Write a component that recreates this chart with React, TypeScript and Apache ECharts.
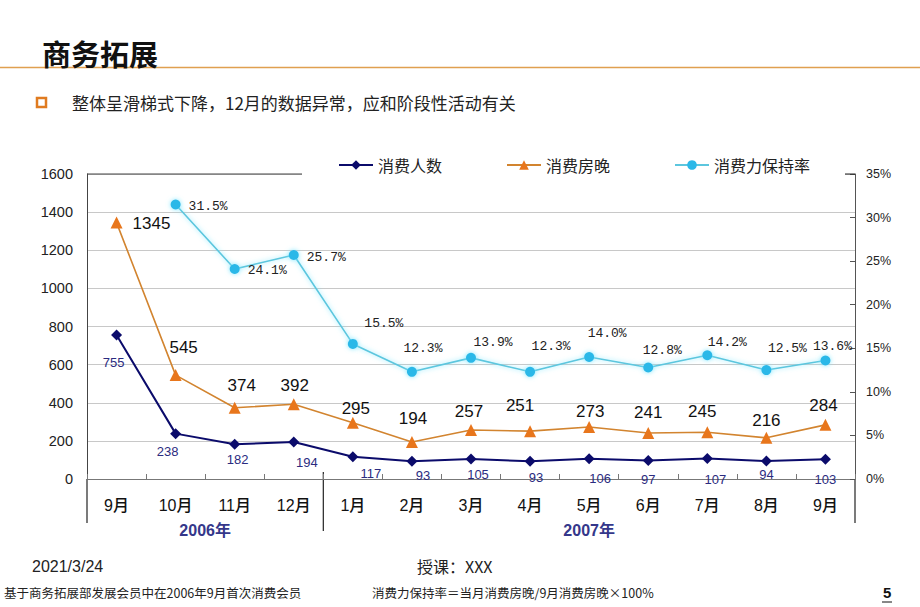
import React, { useEffect, useRef } from "react";
import * as echarts from "echarts";

const categories = ["9月", "10月", "11月", "12月", "1月", "2月", "3月", "4月", "5月", "6月", "7月", "8月", "9月"];
const yearGroups = [
  { label: "2006年", start: 0, end: 3 },
  { label: "2007年", start: 4, end: 12 },
];
const consumers = [755, 238, 182, 194, 117, 93, 105, 93, 106, 97, 107, 94, 103];
const roomNights = [1345, 545, 374, 392, 295, 194, 257, 251, 273, 241, 245, 216, 284];
const retention: (number | null)[] = [null, 31.5, 24.1, 25.7, 15.5, 12.3, 13.9, 12.3, 14.0, 12.8, 14.2, 12.5, 13.6];
const leftTicks = { min: 0, max: 1600, interval: 200 };
const rightTicks = { min: 0, max: 35, interval: 5 };

// label placement tweaks (style only)
const consumerLabelOffsets = [[-3, 13], [-8, 4], [3, 1], [13, 6], [18, 3], [11, 0], [7, 1], [6, 2], [11, 6], [0, 5], [8, 7], [0, -1], [0, 6]];
const nightLabelOffsets = [[0, 1], [8, -10], [7, -5], [1, -1], [3, 3], [1, -6], [-2, -1], [-10, -8], [1, 2], [0, -3], [-5, -3], [0, 0], [-2, -2]];
const retentionLabelOffsets = [[0, 0], [0, 2], [0, 2], [0, 2], [31, -6], [11, -9], [22, -1], [21, -11], [18, -9], [14, -2], [20, 2], [21, -7], [7, 1]];

const GRID_LEFT = 87;
const GRID_RIGHT_X = 855;
const GRID_TOP = 174;
const GRID_BOTTOM_Y = 479;
const W = 920;
const H = 607;
const FONT = "'Liberation Sans', 'Noto Sans CJK SC', sans-serif";
const CJK = "'Noto Sans CJK SC', 'Liberation Sans', sans-serif";
const MONO = "'Liberation Mono', 'DejaVu Sans Mono', monospace";

export default function App() {
  const ref = useRef<HTMLDivElement>(null);
  useEffect(() => {
    if (!ref.current) return;
    const chart = echarts.init(ref.current, null, { renderer: "svg" });
    const step = (GRID_RIGHT_X - GRID_LEFT) / categories.length;
    const sepX = (i: number) => GRID_LEFT + i * step;

    const graphics: any[] = [
      // title
      { type: "text", left: 42, top: 38, style: { text: "商务拓展", font: `bold 29px ${CJK}`, fill: "#111" }, z: 5 },
      { type: "line", shape: { x1: 0, y1: 67.5, x2: W, y2: 67.5 }, style: { stroke: "#e0a050", lineWidth: 1.5 }, z: 4 },
      // bullet
      { type: "rect", shape: { x: 37, y: 98, width: 9, height: 9 }, style: { fill: "#fff", stroke: "#e07b20", lineWidth: 2.5 } },
      { type: "text", left: 72, top: 94, style: { text: "整体呈滑梯式下降，12月的数据异常，应和阶段性活动有关", font: `17px ${CJK}`, fill: "#222" } },
      // cover for top gridline behind legend
      { type: "rect", shape: { x: 302, y: 170, width: 543, height: 8 }, style: { fill: "#fff" }, z: 10 },
      // top border segments
      { type: "line", shape: { x1: GRID_LEFT, y1: GRID_TOP, x2: 302, y2: GRID_TOP }, style: { stroke: "#444", lineWidth: 1 }, z: 11 },
      { type: "line", shape: { x1: 845, y1: GRID_TOP, x2: GRID_RIGHT_X, y2: GRID_TOP }, style: { stroke: "#222", lineWidth: 1 }, z: 11 },
      // vertical lines below the axis
      { type: "line", shape: { x1: GRID_LEFT, y1: GRID_BOTTOM_Y, x2: GRID_LEFT, y2: 523 }, style: { stroke: "#222", lineWidth: 1.2 } },
      { type: "line", shape: { x1: GRID_RIGHT_X, y1: GRID_BOTTOM_Y, x2: GRID_RIGHT_X, y2: 523 }, style: { stroke: "#222", lineWidth: 1.2 } },
      { type: "line", shape: { x1: sepX(4), y1: 472, x2: sepX(4), y2: 531 }, style: { stroke: "#222", lineWidth: 1.2 } },
      // footer
      { type: "text", left: 32, top: 558, style: { text: "2021/3/24", font: `16px ${FONT}`, fill: "#222" } },
      { type: "text", left: 417, top: 558, style: { text: "授课：XXX", font: `16px ${CJK}`, fill: "#222" } },
      { type: "text", left: 4, top: 586, style: { text: "基于商务拓展部发展会员中在2006年9月首次消费会员", font: `12.5px ${CJK}`, fill: "#222" } },
      { type: "text", left: 372, top: 586, style: { text: "消费力保持率＝当月消费房晚/9月消费房晚×100%", font: `12.5px ${CJK}`, fill: "#222" } },
      { type: "text", left: 883, top: 585, style: { text: "5", font: `bold 15px ${FONT}`, fill: "#111" } },
      { type: "line", shape: { x1: 882, y1: 602, x2: 892, y2: 602 }, style: { stroke: "#111", lineWidth: 1 } },
    ];
    yearGroups.forEach((g) => {
      const cx = (sepX(g.start) + sepX(g.end + 1)) / 2;
      graphics.push({
        type: "text",
        x: cx,
        y: 530,
        style: { text: g.label, font: `bold 16px ${FONT}`, fill: "#34378a", textAlign: "center", textVerticalAlign: "middle" },
      });
    });

    chart.setOption({
      animation: false,
      backgroundColor: "#fff",
      grid: { left: GRID_LEFT, right: W - GRID_RIGHT_X, top: GRID_TOP, bottom: H - GRID_BOTTOM_Y, containLabel: false },
      legend: {
        left: 333,
        top: 152,
        itemWidth: 34,
        itemHeight: 12,
        itemGap: 64,
        z: 20,
        textStyle: { fontSize: 16, color: "#222", fontFamily: CJK },
        data: ["消费人数", "消费房晚", "消费力保持率"],
      },
      xAxis: {
        type: "category",
        data: categories,
        boundaryGap: true,
        axisLine: { show: true, lineStyle: { color: "#777", width: 1 } },
        axisTick: { show: true, inside: true, length: 5, lineStyle: { color: "#777" } },
        axisLabel: { margin: 18, fontSize: 16, color: "#111", fontFamily: FONT, fontWeight: 500 },
        splitLine: { show: false },
      },
      yAxis: [
        {
          type: "value",
          min: leftTicks.min,
          max: leftTicks.max,
          interval: leftTicks.interval,
          axisLine: { show: true, lineStyle: { color: "#444", width: 1 } },
          axisTick: { show: false },
          axisLabel: { margin: 14, fontSize: 14.5, color: "#222", fontFamily: FONT, formatter: (v: number) => String(v) },
          splitLine: { show: true, lineStyle: { color: "#c8c8c8", width: 1 } },
        },
        {
          type: "value",
          min: rightTicks.min,
          max: rightTicks.max,
          interval: rightTicks.interval,
          position: "right",
          axisLine: { show: true, lineStyle: { color: "#555", width: 1 } },
          axisTick: { show: true, inside: true, length: 5, lineStyle: { color: "#555" } },
          axisLabel: { margin: 11, fontSize: 12.5, color: "#222", fontFamily: FONT, formatter: "{value}%" },
          splitLine: { show: false },
        },
      ],
      series: [
        {
          name: "消费人数",
          type: "line",
          yAxisIndex: 0,
          z: 3,
          symbol: "diamond",
          symbolSize: 11,
          itemStyle: { color: "#0b0b6b" },
          lineStyle: { color: "#0b0b6b", width: 2 },
          data: consumers.map((v, i) => ({
            value: v,
            label: { offset: consumerLabelOffsets[i] },
          })),
          label: {
            show: true,
            position: "bottom",
            distance: 2,
            fontSize: 13,
            color: "#2b2b80",
            fontFamily: FONT,
          },
        },
        {
          name: "消费房晚",
          type: "line",
          yAxisIndex: 0,
          z: 3,
          symbol: "triangle",
          symbolSize: 12,
          itemStyle: { color: "#e8761c" },
          lineStyle: { color: "#d2842f", width: 1.6 },
          data: roomNights.map((v, i) => ({
            value: v,
            label: i === 0 ? { position: "right", distance: 10, offset: nightLabelOffsets[i] } : { offset: nightLabelOffsets[i] },
          })),
          label: {
            show: true,
            position: "top",
            distance: 3,
            fontSize: 17,
            color: "#111",
            fontFamily: FONT,
          },
        },
        {
          name: "消费力保持率",
          type: "line",
          yAxisIndex: 1,
          z: 3,
          symbol: "circle",
          symbolSize: 10,
          connectNulls: false,
          itemStyle: { color: "#2bb8e8", shadowColor: "rgba(120,230,255,0.9)", shadowBlur: 5 },
          lineStyle: { color: "#5cc6de", width: 1.6, shadowColor: "rgba(120,230,255,0.9)", shadowBlur: 5 },
          data: retention.map((v, i) => ({
            value: v === null ? "-" : v,
            label:
              i <= 3
                ? { position: "right", distance: 8, offset: retentionLabelOffsets[i] }
                : { offset: retentionLabelOffsets[i] },
          })),
          label: {
            show: true,
            position: "top",
            distance: 3,
            fontSize: 13,
            color: "#222",
            fontFamily: MONO,
            formatter: (p: any) => `${Number(p.value).toFixed(1)}%`,
          },
        },
      ],
      graphic: graphics,
    });
    return () => chart.dispose();
  }, []);
  return <div ref={ref} style={{ width: W, height: H, position: "absolute", left: 0, top: 0 }} />;
}
